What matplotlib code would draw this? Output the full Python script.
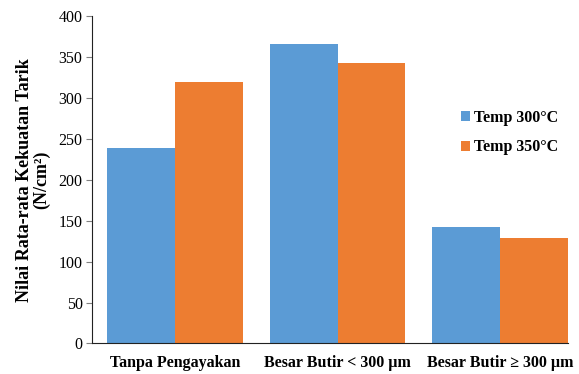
import numpy as np
import matplotlib

matplotlib.use("Agg")
import matplotlib.pyplot as plt

categories = ["Tanpa Pengayakan", "Besar Butir < 300 µm", "Besar Butir \u2265 300 µm"]
temp_300 = [239, 366, 142]
temp_350 = [320, 343, 129]
series_labels = ["Temp 300°C", "Temp 350°C"]
yticks = [0, 50, 100, 150, 200, 250, 300, 350, 400]

BLUE = "#5B9BD5"
ORANGE = "#ED7D31"
SERIF = ["Liberation Serif", "DejaVu Serif"]

fig = plt.figure(figsize=(5.79, 3.74), dpi=100)
ax = fig.add_axes([0.1594, 0.0816, 0.8216, 0.8743])

x = np.arange(len(categories))
w = 0.418
ax.bar(x - w / 2, temp_300, w, color=BLUE, label=series_labels[0])
ax.bar(x + w / 2, temp_350, w, color=ORANGE, label=series_labels[1])

ax.set_xlim(-0.509, 2.418)
ax.set_ylim(0, 400)
ax.set_yticks(yticks)
ax.set_yticklabels([str(v) for v in yticks], family=SERIF, fontsize=11.5)
ax.set_xticks(x)
ax.set_xticklabels(categories, family=SERIF, fontsize=11.5, fontweight="bold")
ax.tick_params(axis="x", length=0, pad=8)
ax.tick_params(axis="y", length=4, color="#808080", pad=3)

for side in ("top", "right"):
    ax.spines[side].set_visible(False)
ax.spines["left"].set_color("#222222")
ax.spines["bottom"].set_color("#222222")

ax.set_ylabel("Nilai Rata-rata Kekuatan Tarik\n(N/cm²)", family=SERIF,
              fontsize=13, fontweight="bold", labelpad=6, linespacing=1.0)

leg = ax.legend(loc="center left", bbox_to_anchor=(0.745, 0.645), frameon=False,
                prop={"family": SERIF, "weight": "bold", "size": 11.5},
                handlelength=0.55, handleheight=0.55, handletextpad=0.25,
                labelspacing=0.85)

fig.savefig("out.png", dpi=100)
